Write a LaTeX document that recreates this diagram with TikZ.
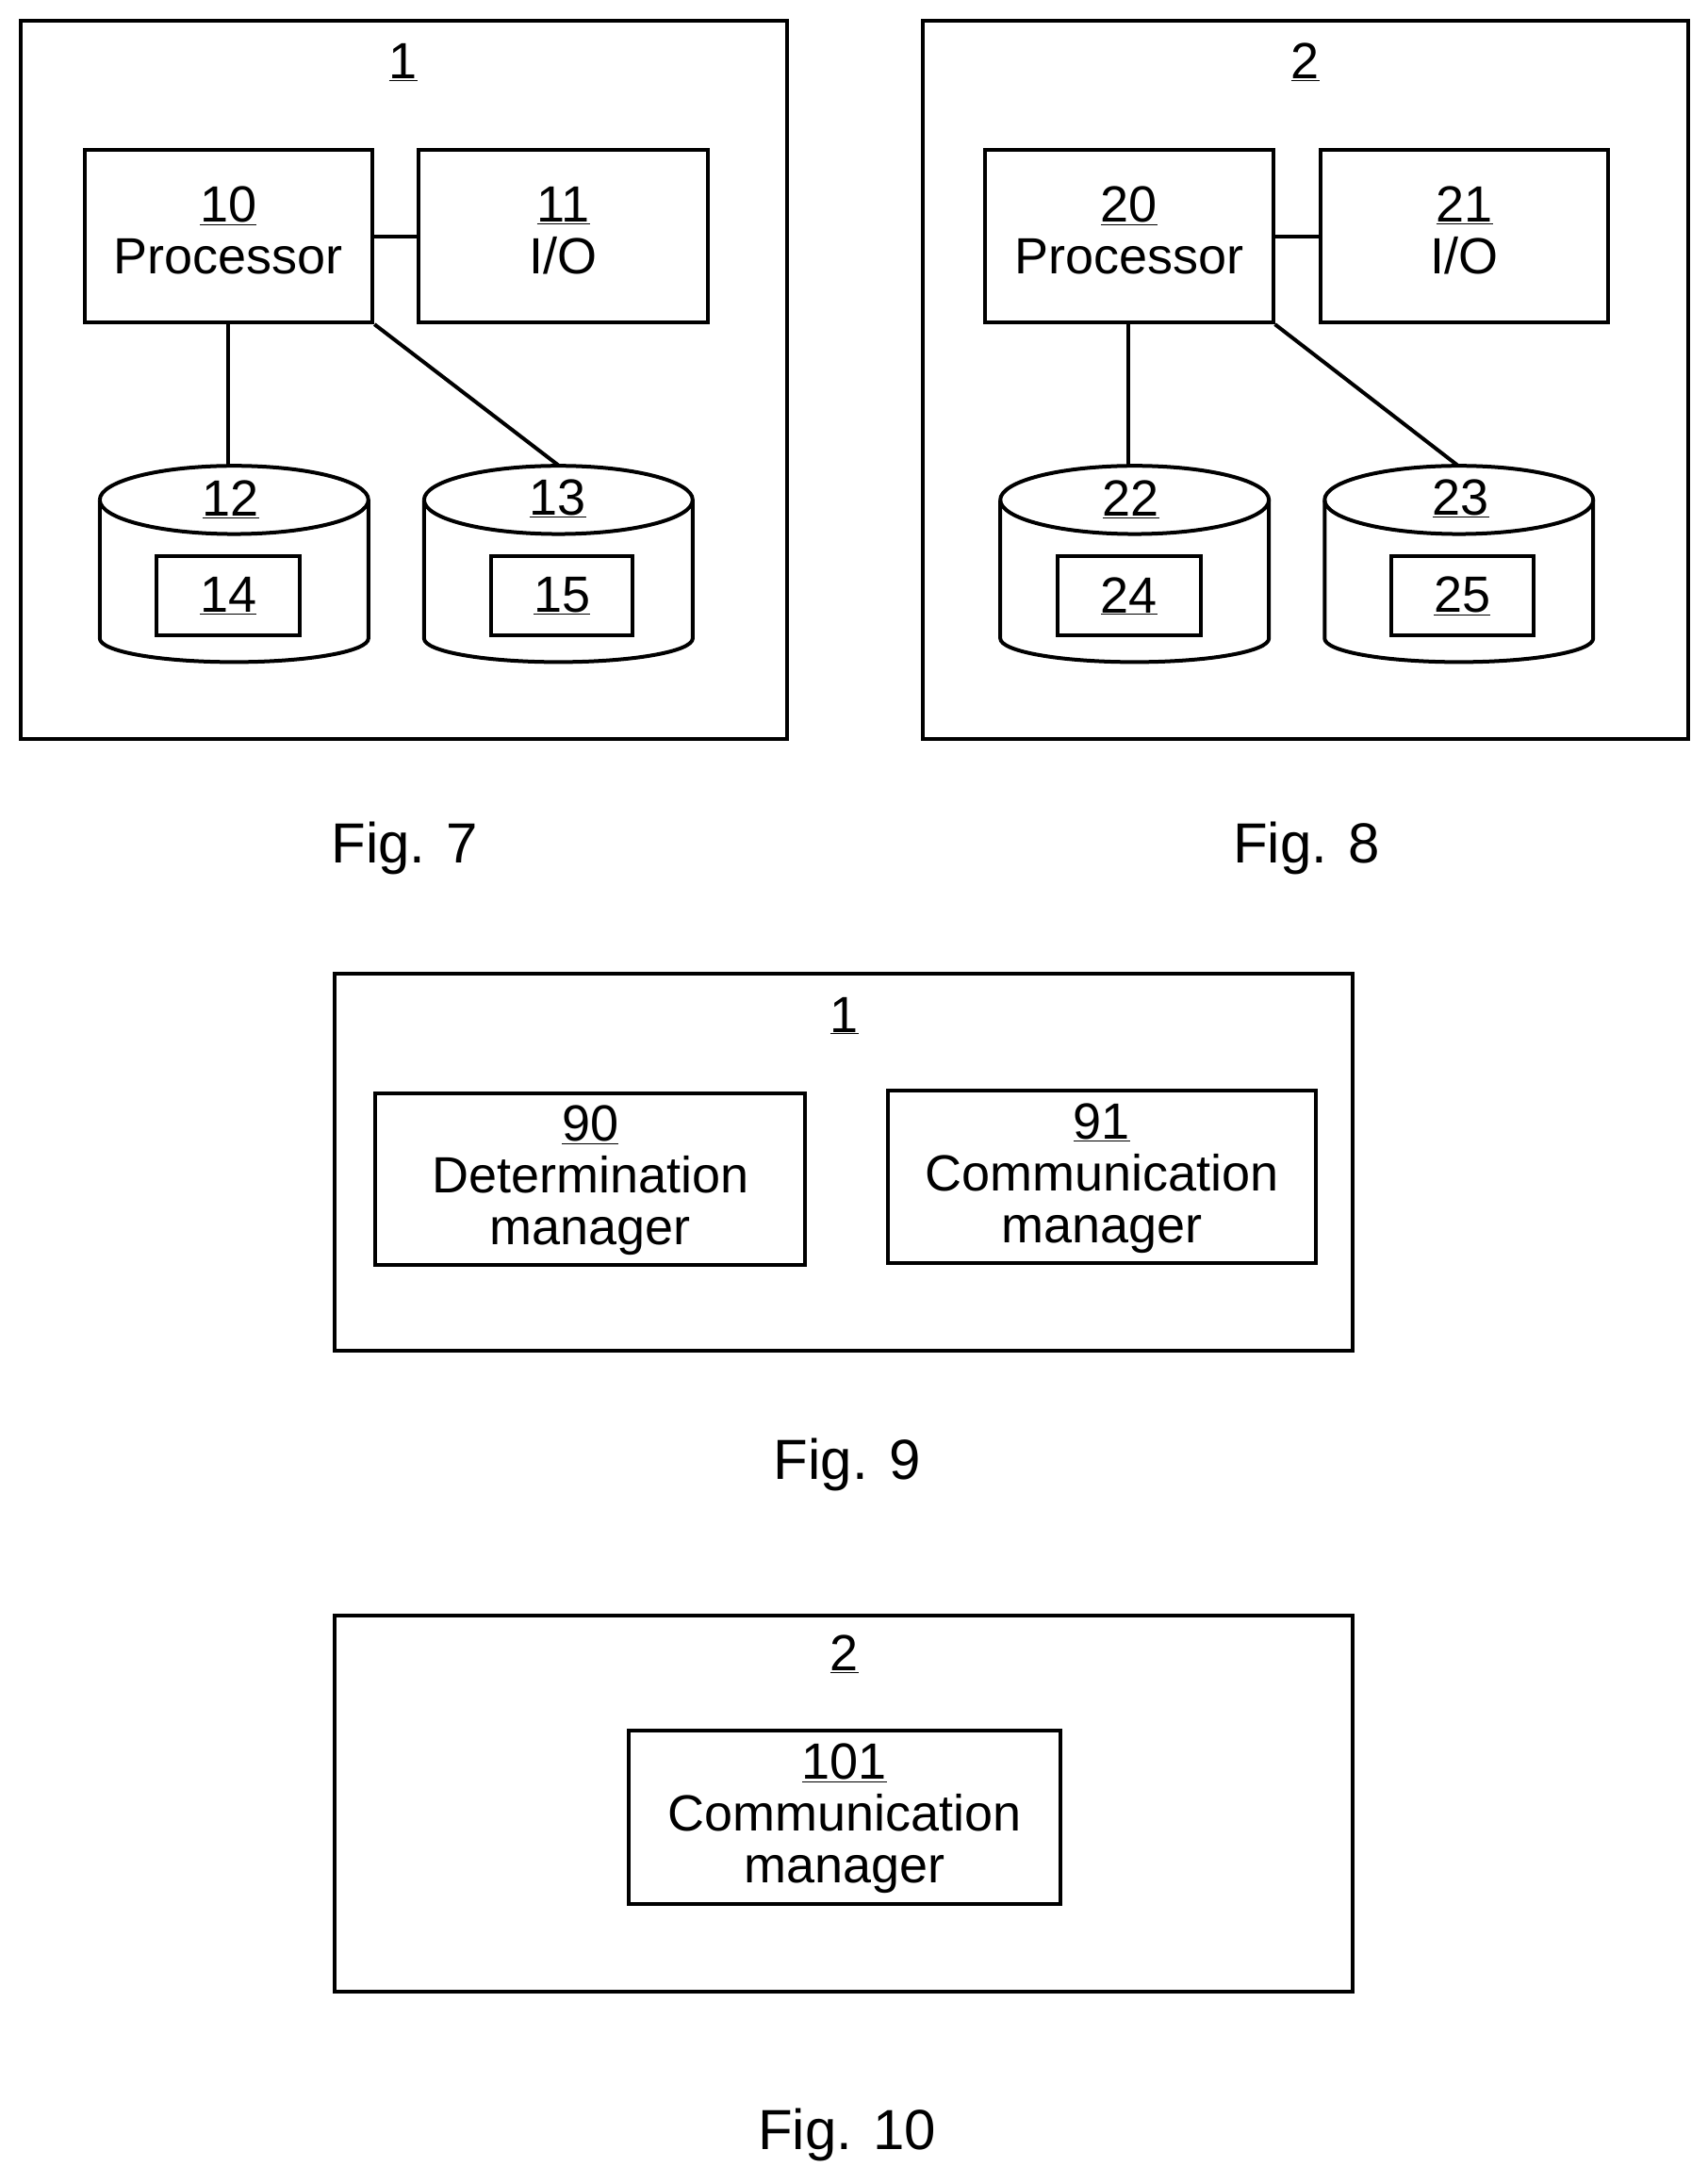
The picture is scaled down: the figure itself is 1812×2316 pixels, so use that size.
\documentclass[tikz,border=0pt]{standalone}
\usepackage{fontspec}
\setmainfont{Liberation Sans}
\newcommand{\scl}{1.4766}
\tikzset{
  every node/.style={text=black,font=\fontsize{54}{55}\selectfont},
  ln/.style={draw=black,line width=4pt},
  boxn/.style={ln,rectangle,inner sep=0pt,align=center},
  lbl/.style={anchor=base,inner sep=0pt,align=center},
  figl/.style={anchor=base,inner sep=0pt,font=\fontsize{60}{61}\selectfont},
  cyl/.style={ln,line join=round}
}
\newcommand{\uplast}{\rule[-12pt]{0pt}{12pt}}
\newcommand{\dnfirst}{\rule{0pt}{41pt}}
\newcommand{\dnone}{\rule{0pt}{37pt}}
% name, x1, y1, x2, y2, text
\newcommand{\bx}[6]{\node[boxn,minimum width={(#4-#2)*\scl*1pt},minimum height={(#5-#3)*\scl*1pt}] (#1) at ({(#2+#4)/2},{-(#3+#5)/2}) {#6};}
\newcommand{\cylshape}[1]{%
  \draw[cyl] (#1,-358.5) arc[start angle=180,end angle=-180,x radius=96.5*\scl*1pt,y radius=24.5*\scl*1pt];
  \draw[cyl] (#1,-358.5) -- (#1,-458) arc[start angle=180,end angle=360,x radius=96.5*\scl*1pt,y radius=17*\scl*1pt] -- ({#1+193},-358.5);}
\begin{document}
\begin{tikzpicture}[x=1pt,y=1pt]
\useasboundingbox[fill=white] (0,0) rectangle (1812,-2316);
\begin{scope}[x=\scl pt,y=\scl pt,shift={(1pt,-1pt)}]

% Fig 7
\bx{a}{14}{14}{565}{530}{}
\node[lbl] (at) at (289,-56) {\underline{1}};
\bx{p1}{60}{107}{267}{231}{\underline{10}\\[0pt]Processor\uplast}
\bx{io1}{300}{107}{508}{231}{\underline{11}\\[0pt]I/O\uplast}
\cylshape{71}
\cylshape{304}
\coordinate (c12) at (163,-334);
\coordinate (c13) at (401,-334);
\node[lbl] (l12) at (165,-370) {\underline{12}};
\node[lbl] (l13) at (400,-369.5) {\underline{13}};
\bx{n14}{112}{399}{215}{456}{\dnone\underline{14}}
\bx{n15}{352}{399}{454}{456}{\dnone\underline{15}}
\draw[ln] (p1.east) -- (io1.west);
\draw[ln] (p1.south -| c12) -- (c12);
\draw[ln] (p1.south east) -- (c13);
\node[figl] (f7) at (290,-619) {Fig. 7};

% Fig 8
\bx{b}{662}{14}{1212}{530}{}
\node[lbl] (bt) at (937,-56) {\underline{2}};
\bx{p2}{707}{107}{914}{231}{\underline{20}\\[0pt]Processor\uplast}
\bx{io2}{948}{107}{1155}{231}{\underline{21}\\[0pt]I/O\uplast}
\cylshape{718}
\cylshape{951}
\coordinate (c22) at (810,-334);
\coordinate (c23) at (1047,-334);
\node[lbl] (l22) at (812,-370) {\underline{22}};
\node[lbl] (l23) at (1049,-369.5) {\underline{23}};
\bx{n24}{759}{399}{862}{456}{\dnone\underline{24}}
\bx{n25}{999}{399}{1101}{456}{\dnone\underline{25}}
\draw[ln] (p2.east) -- (io2.west);
\draw[ln] (p2.south -| c22) -- (c22);
\draw[ln] (p2.south east) -- (c23);
\node[figl] (f8) at (938,-619) {Fig. 8};

% Fig 9
\bx{c}{240}{699}{971}{970}{}
\node[lbl] (ct) at (606,-741) {\underline{1}};
\bx{n90}{269}{785}{578}{908}{\dnfirst\underline{90}\\[0pt]Determination\\[0pt]manager}
\bx{n91}{637}{783}{945}{907}{\dnfirst\underline{91}\\[0pt]Communication\\[0pt]manager}
\node[figl] (f9) at (608,-1062) {Fig. 9};

% Fig 10
\bx{d}{240}{1160}{971}{1430}{}
\node[lbl] (dt) at (606,-1200) {\underline{2}};
\bx{n101}{451}{1243}{761}{1367}{\dnfirst\underline{101}\\[0pt]Communication\\[0pt]manager}
\node[figl] (f10) at (608,-1544) {Fig. 10};
\end{scope}
\end{tikzpicture}
\end{document}
